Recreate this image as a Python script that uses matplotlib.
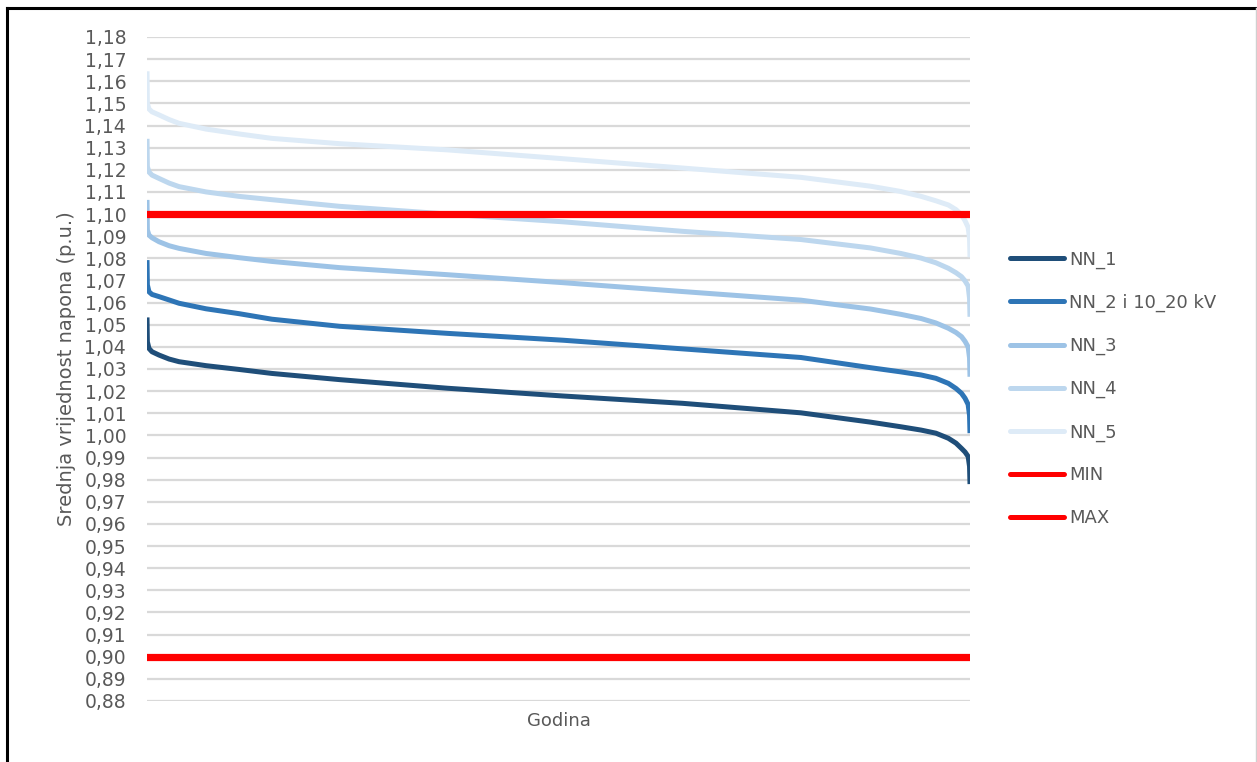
import matplotlib
matplotlib.use("Agg")
import matplotlib.pyplot as plt
import numpy as np
from matplotlib.lines import Line2D

# sorted hourly values (duration curves over one year)
hours = [1, 5, 22, 54, 129, 236, 342, 630, 980, 1330, 2050, 3200, 4430,
         5700, 6960, 7700, 8024, 8240, 8397, 8530, 8611, 8670, 8707, 8740,
         8755, 8760]

nn_1 = [1.0533, 1.0423, 1.0393, 1.0378, 1.0363, 1.0345, 1.0333, 1.0315,
        1.0298, 1.0280, 1.0252, 1.0213, 1.0178, 1.0145, 1.0102, 1.0060,
        1.0039, 1.0024, 1.0010, 0.9987, 0.9965, 0.9941, 0.9925, 0.9905,
        0.9860, 0.9780]
nn_2 = [1.0792, 1.0680, 1.0649, 1.0637, 1.0627, 1.0612, 1.0597, 1.0572,
        1.0550, 1.0525, 1.0493, 1.0461, 1.0430, 1.0391, 1.0352, 1.0306,
        1.0287, 1.0273, 1.0258, 1.0235, 1.0212, 1.0190, 1.0168, 1.0140,
        1.0090, 1.0010]
nn_3 = [1.1064, 1.0928, 1.0905, 1.0893, 1.0875, 1.0857, 1.0845, 1.0822,
        1.0803, 1.0786, 1.0758, 1.0726, 1.0690, 1.0650, 1.0611, 1.0571,
        1.0547, 1.0528, 1.0508, 1.0484, 1.0465, 1.0446, 1.0425, 1.0400,
        1.0350, 1.0265]
nn_4 = [1.1340, 1.1214, 1.1190, 1.1176, 1.1161, 1.1140, 1.1124, 1.1100,
        1.1080, 1.1065, 1.1035, 1.1000, 1.0965, 1.0922, 1.0885, 1.0847,
        1.0822, 1.0801, 1.0780, 1.0755, 1.0735, 1.0717, 1.0698, 1.0675,
        1.0620, 1.0536]
nn_5 = [1.1645, 1.1500, 1.1475, 1.1462, 1.1448, 1.1427, 1.1410, 1.1384,
        1.1362, 1.1342, 1.1318, 1.1290, 1.1250, 1.1208, 1.1166, 1.1126,
        1.1102, 1.1080, 1.1060, 1.1041, 1.1020, 1.0996, 1.0970, 1.0940,
        1.0890, 1.0805]
u_min = 0.90
u_max = 1.10

series = [
    ("NN_1", nn_1, "#1f4e79"),
    ("NN_2 i 10_20 kV", nn_2, "#2e75b6"),
    ("NN_3", nn_3, "#9dc3e6"),
    ("NN_4", nn_4, "#bdd7ee"),
    ("NN_5", nn_5, "#deebf7"),
]

y_ticks = np.round(np.arange(0.88, 1.1801, 0.01), 2)

plt.rcParams["font.family"] = ["DejaVu Sans"]
TEXT = "#595959"
FS = 13

fig = plt.figure(figsize=(12.57, 7.62), dpi=100)
ax = fig.add_axes([147 / 1257, 1 - 701 / 762, (970 - 147) / 1257, (701 - 37) / 762])

for name, values, color in series:
    ax.plot(hours, values, color=color, lw=3.6, label=name,
            solid_joinstyle="round", solid_capstyle="butt")

ax.plot([hours[0], hours[-1]], [u_min, u_min], color="#ff0000", lw=5.2, label="MIN")
ax.plot([hours[0], hours[-1]], [u_max, u_max], color="#ff0000", lw=5.2, label="MAX")

ax.set_xlim(hours[0], hours[-1])
ax.set_ylim(0.88, 1.18)
ax.set_yticks(y_ticks)
ax.set_yticklabels([f"{v:.2f}".replace(".", ",") for v in y_ticks])
ax.set_xticks([])
ax.grid(axis="y", color="#d9d9d9", lw=1.6, zorder=0)
ax.set_axisbelow(True)
for side in ax.spines.values():
    side.set_visible(False)
ax.tick_params(axis="y", length=0, pad=15, labelsize=13.5, labelcolor=TEXT)

ax.set_xlabel("Godina", fontsize=FS, color=TEXT, labelpad=8)
ax.set_ylabel("Srednja vrijednost napona (p.u.)", fontsize=14, color=TEXT,
              labelpad=6)

leg = ax.legend(loc="center left", bbox_to_anchor=(994 / 1257, 1 - 389 / 762),
                bbox_transform=fig.transFigure, frameon=False, fontsize=FS,
                handlelength=3.0, handletextpad=0.25, labelspacing=1.38)
for txt in leg.get_texts():
    txt.set_color(TEXT)
for h in leg.get_lines():
    h.set_linewidth(3.6)
    h.set_solid_capstyle("round")

# outer frame
fig.add_artist(Line2D([7 / 1257, 7 / 1257], [0, 1 - 8 / 762], color="black", lw=2.2,
                      transform=fig.transFigure))
fig.add_artist(Line2D([7 / 1257, 1], [1 - 8 / 762, 1 - 8 / 762], color="black", lw=2.2,
                      transform=fig.transFigure))
fig.add_artist(Line2D([1256 / 1257, 1256 / 1257], [0, 1 - 8 / 762], color="#d0d0d0",
                      lw=1.0, transform=fig.transFigure))

fig.savefig("out.png", dpi=100)
